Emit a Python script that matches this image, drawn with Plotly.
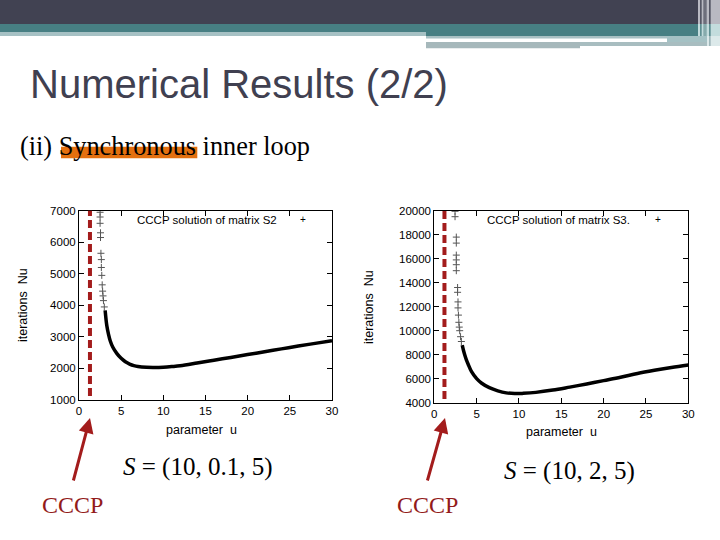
import plotly.graph_objects as go

W, H = 720, 540
def px(x): return x / W
def py(y): return 1 - y / H

# ---------------- data ----------------
x_ticks = [0, 5, 10, 15, 20, 25, 30]
y_ticks_s2 = [1000, 2000, 3000, 4000, 5000, 6000, 7000]
y_ticks_s3 = [4000, 6000, 8000, 10000, 12000, 14000, 16000, 18000, 20000]

# S2: noisy start region (u, Nu)
s2_noise_u = [2.5, 2.5, 2.5, 2.55, 2.55, 2.6, 2.65, 2.65, 2.7, 2.75, 2.8, 2.85, 2.9, 3.0]
s2_noise_nu = [6950, 6800, 6600, 6300, 6150, 5650, 5450, 5200, 4950, 4650, 4450, 4300, 4150, 3950]
# S2: dense (smooth) region
s2_u = [3.1, 3.3, 3.5, 3.7, 4.0, 4.5, 5.0, 5.5, 6.0, 6.5, 7.0, 8.0, 9.0, 10.0, 11, 12, 14, 16, 18, 20, 22, 24, 26, 28, 30]
s2_nu = [3840, 3350, 3080, 2880, 2680, 2470, 2320, 2210, 2140, 2090, 2060, 2035, 2030, 2040, 2060, 2085, 2170, 2260, 2350, 2440, 2530, 2620, 2710, 2795, 2880]

# S3: noisy start region
s3_noise_u = [2.45, 2.45, 2.6, 2.6, 2.6, 2.6, 2.6, 2.6, 2.75, 2.75, 2.8, 2.8, 2.85, 2.9, 2.95, 3.0, 3.1, 3.2]
s3_noise_nu = [19950, 19500, 17800, 17300, 16300, 15900, 15500, 15000, 13600, 13200, 12400, 11900, 11300, 10700, 10300, 10000, 9500, 9100]
# S3: dense (smooth) region
s3_u = [3.3, 3.45, 3.6, 3.8, 4.0, 4.4, 5.0, 5.6, 6.5, 7.5, 8.5, 9.5, 10.5, 12, 14, 16, 18, 20, 22, 24, 26, 28, 30]
s3_nu = [8800, 8350, 7975, 7550, 7200, 6580, 6000, 5620, 5250, 4990, 4820, 4760, 4780, 4860, 5050, 5300, 5560, 5840, 6120, 6440, 6700, 6930, 7140]

cccp_u = [1.3, 1.2]  # CCCP reference position for S2 and S3

fig = go.Figure()

# ---------- traces ----------
for noise_u, noise_nu, u, nu, xa, ya in [
    (s2_noise_u, s2_noise_nu, s2_u, s2_nu, "x", "y"),
    (s3_noise_u, s3_noise_nu, s3_u, s3_nu, "x2", "y2"),
]:
    fig.add_trace(go.Scatter(x=noise_u, y=noise_nu, mode="markers", xaxis=xa, yaxis=ya,
                             marker=dict(symbol="cross-thin", size=5, line=dict(color="#555", width=1)),
                             showlegend=False))
    fig.add_trace(go.Scatter(x=u, y=nu, mode="lines", xaxis=xa, yaxis=ya, line_shape="spline",
                             line=dict(color="black", width=3.5), showlegend=False))

axis_common = dict(showline=True, linecolor="black", linewidth=1, mirror="ticks", ticks="inside",
                   ticklen=5, tickcolor="black", showgrid=False, zeroline=False, automargin=False,
                   tickformat="d",
                   tickfont=dict(family="Liberation Sans, Arial", size=11.5, color="black"))

fig.update_layout(
    width=W, height=H, margin=dict(l=0, r=0, t=0, b=0, pad=0, autoexpand=False),
    paper_bgcolor="white", plot_bgcolor="white",
    xaxis=dict(domain=[px(79), px(332)], range=[0, 30], tickvals=x_ticks, anchor="y", **axis_common),
    yaxis=dict(domain=[py(400), py(210.7)], range=[1000, 7000], tickvals=y_ticks_s2, anchor="x", **axis_common),
    xaxis2=dict(domain=[px(434.3), px(688.3)], range=[0, 30], tickvals=x_ticks, anchor="y2", **axis_common),
    yaxis2=dict(domain=[py(402.7), py(210.7)], range=[4000, 20000], tickvals=y_ticks_s3, anchor="x2", **axis_common),
)

# ---------- shapes: banner ----------
def rect(x0, y0, x1, y1, color):
    return dict(type="rect", xref="paper", yref="paper", x0=px(x0), x1=px(x1), y0=py(y1), y1=py(y0),
                fillcolor=color, line=dict(width=0), layer="below")

shapes = [
    rect(0, 0, 698, 24, "#414252"),
    rect(0, 24, 698, 32, "#477f83"),
    rect(426, 32, 698, 36, "#477f83"),
    rect(0, 32, 426, 36, "#a6c1c4"),
    rect(426, 36, 667, 38.6, "#a8c0c3"),
    rect(667, 36, 707, 46, "#a4c1c4"),
    rect(426, 42, 707, 46, "#a8bdc0"),
    rect(426, 42, 580, 48.3, "#a6b8bb"),
    # right-edge vertical stripes
    rect(698, 0, 720, 24, "#b9b9c2"),
    rect(700, 0, 701.7, 24, "#555665"),
    rect(703.3, 0, 706.7, 24, "#6d6e7b"),
    rect(709, 0, 710.7, 24, "#555665"),
    rect(698, 24, 720, 36, "#c3dcdd"),
    rect(700, 24, 701.7, 36, "#5f8f92"),
    rect(703.3, 24, 706.7, 36, "#86aaac"),
    rect(709, 24, 710.7, 36, "#5f8f92"),
    rect(707, 36, 720, 46, "#dce9ea"),
    rect(709, 36, 710.7, 46, "#9fb7ba"),
]
# orange highlight under "Synchronous"
shapes.append(rect(61, 146.7, 197.3, 158.3, "#e4700f"))
# dashed CCCP lines
shapes.append(dict(type="line", xref="x", yref="paper", x0=cccp_u[0], x1=cccp_u[0],
                   y0=py(396), y1=py(210.7), line=dict(color="#a31c1c", width=4, dash="8px,4px")))
shapes.append(dict(type="line", xref="x2", yref="paper", x0=cccp_u[1], x1=cccp_u[1],
                   y0=py(399), y1=py(210.7), line=dict(color="#a31c1c", width=4, dash="8px,4px")))
fig.update_layout(shapes=shapes)

# ---------- annotations ----------
ann = []
def text(x, y, s, size, color="black", family="Liberation Sans, Arial", xanchor="left", yanchor="middle", angle=0):
    ann.append(dict(x=px(x), y=py(y), xref="paper", yref="paper", text=s, showarrow=False,
                    font=dict(family=family, size=size, color=color), xanchor=xanchor, yanchor=yanchor,
                    textangle=angle))

text(28, 84, "Numerical Results (2/2)", 40, color="#404050")
text(18, 147, "(ii) Synchronous inner loop", 26.3, family="Liberation Serif, Times New Roman")

# legend-like labels
text(135, 220, "CCCP solution of matrix S2", 11.5)
text(302.7, 219, "+", 10, xanchor="center")
text(485, 220, "CCCP solution of matrix S3.", 11.5)
text(657.7, 219, "+", 10, xanchor="center")

# axis titles
text(201, 430, "parameter  u", 12.5, xanchor="center")
text(561.7, 432, "parameter  u", 12.5, xanchor="center")
text(23, 305, "iterations  Nu", 12.5, xanchor="center", angle=-90)
text(369, 307, "iterations  Nu", 12.5, xanchor="center", angle=-90)

# S labels
text(198, 467, "<i>S</i> = (10, 0.1, 5)", 25, family="Liberation Serif, Times New Roman", xanchor="center")
text(569, 471, "<i>S</i> = (10, 2, 5)", 25, family="Liberation Serif, Times New Roman", xanchor="center")

# CCCP labels
text(72, 505, "CCCP", 24, color="#931b1b", family="Liberation Serif, Times New Roman", xanchor="center")
text(427.5, 505, "CCCP", 24, color="#931b1b", family="Liberation Serif, Times New Roman", xanchor="center")

# arrows
for tip, tail in [((90, 418), (73, 482)), ((445, 418), (427, 482))]:
    ann.append(dict(x=px(tip[0]), y=py(tip[1]), xref="paper", yref="paper", text="", showarrow=True,
                    ax=tail[0] - tip[0], ay=tail[1] - tip[1], axref="pixel", ayref="pixel",
                    arrowhead=2, arrowsize=1, arrowwidth=3, arrowcolor="#a31c1c", standoff=0))

fig.update_layout(annotations=ann)

fig.write_html("out.html", config={"displayModeBar": False},
               post_script="document.body.style.margin='0';document.body.style.overflow='hidden';")
